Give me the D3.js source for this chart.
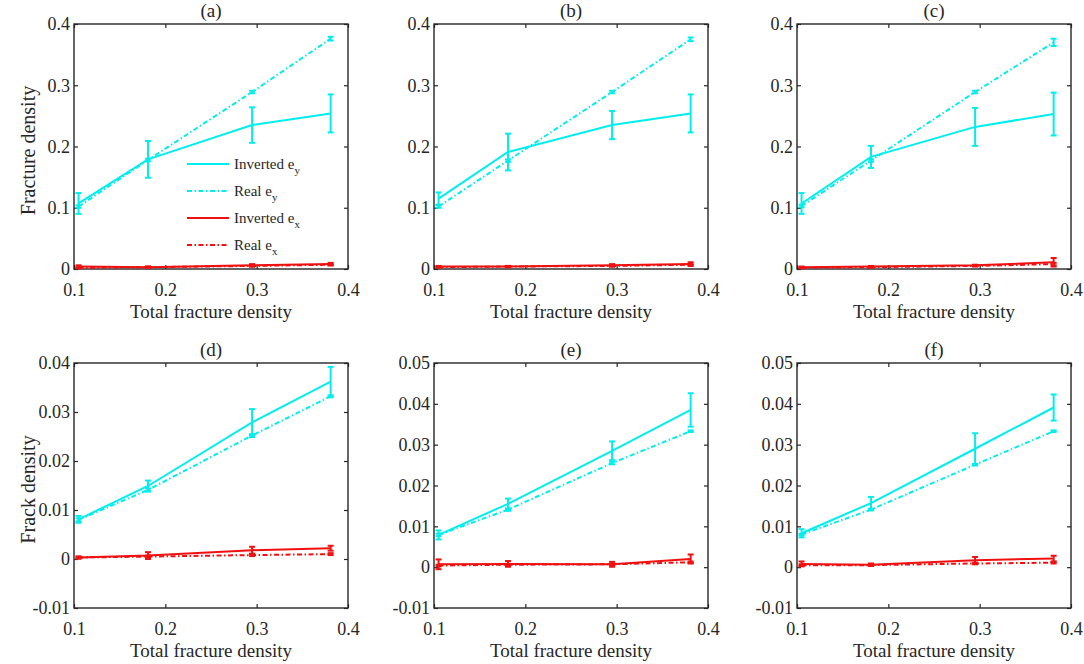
<!DOCTYPE html>
<html>
<head>
<meta charset="utf-8">
<script src="https://cdn.jsdelivr.net/npm/d3@7"></script>
<style>
  body { margin: 0; background: #fff; }
  text { font-family: "Liberation Serif", "Times New Roman", serif; fill: #262626; }
</style>
</head>
<body>
<div id="chart"></div>
<script>
// x positions shared by every panel
const xVals = [0.105, 0.181, 0.295, 0.381];

const panelLabels = ["(a)", "(b)", "(c)", "(d)", "(e)", "(f)"];
const xTicks = [0.1, 0.2, 0.3, 0.4];
const yTicksTop = [0, 0.1, 0.2, 0.3, 0.4];
const yTicksD = [-0.01, 0, 0.01, 0.02, 0.03, 0.04];
const yTicksEF = [-0.01, 0, 0.01, 0.02, 0.03, 0.04, 0.05];
const yLabels = ["Fracture density", "", "", "Frack density", "", ""];

// one row per panel (a..f)
const invEyVal = [
  [0.107, 0.179, 0.235, 0.254],
  [0.115, 0.191, 0.235, 0.254],
  [0.107, 0.183, 0.232, 0.253],
  [0.0081, 0.0149, 0.0279, 0.0362],
  [0.0079, 0.0155, 0.0285, 0.0385],
  [0.0083, 0.0157, 0.0290, 0.0391]
];
const invEyErr = [
  [0.017, 0.030, 0.029, 0.031],
  [0.010, 0.030, 0.023, 0.031],
  [0.017, 0.018, 0.031, 0.035],
  [0.0007, 0.0011, 0.0027, 0.0030],
  [0.0011, 0.0013, 0.0023, 0.0041],
  [0.0010, 0.0015, 0.0038, 0.0032]
];
const realEyVal = [
  [0.102, 0.178, 0.289, 0.376],
  [0.102, 0.177, 0.289, 0.375],
  [0.103, 0.177, 0.289, 0.370],
  [0.0080, 0.0141, 0.0252, 0.0332],
  [0.0079, 0.0141, 0.0255, 0.0333],
  [0.0080, 0.0141, 0.0251, 0.0333]
];
const realEyErr = [
  [0.002, 0.002, 0.002, 0.003],
  [0.002, 0.002, 0.002, 0.003],
  [0.002, 0.002, 0.002, 0.006],
  [0.0003, 0.0003, 0.0003, 0.0002],
  [0.0003, 0.0003, 0.0003, 0.0002],
  [0.0002, 0.0002, 0.0002, 0.0002]
];
const invExVal = [
  [0.004, 0.003, 0.006, 0.008],
  [0.004, 0.004, 0.006, 0.008],
  [0.003, 0.004, 0.006, 0.011],
  [0.0003, 0.0007, 0.0018, 0.0022],
  [0.0007, 0.0008, 0.0007, 0.0020],
  [0.0008, 0.0006, 0.0017, 0.0021]
];
const invExErr = [
  [0.002, 0.001, 0.002, 0.002],
  [0.001, 0.001, 0.002, 0.003],
  [0.001, 0.001, 0.001, 0.007],
  [0.0002, 0.0007, 0.0007, 0.0005],
  [0.0012, 0.0007, 0.0006, 0.0011],
  [0.0006, 0.0003, 0.0008, 0.0007]
];
const realExVal = [
  [0.002, 0.003, 0.005, 0.007],
  [0.003, 0.004, 0.005, 0.007],
  [0.002, 0.003, 0.005, 0.008],
  [0.0003, 0.0005, 0.0008, 0.0010],
  [0.0004, 0.0006, 0.0007, 0.0012],
  [0.0005, 0.0005, 0.0009, 0.0011]
];
const realExErr = [
  [0.001, 0.001, 0.001, 0.001],
  [0.001, 0.001, 0.001, 0.001],
  [0.001, 0.001, 0.001, 0.002],
  [0.0002, 0.0002, 0.0002, 0.0002],
  [0.0002, 0.0002, 0.0002, 0.0002],
  [0.0002, 0.0002, 0.0002, 0.0002]
];

const legendNames = ["Inverted e", "Real e", "Inverted e", "Real e"];
const legendSubs = ["y", "y", "x", "x"];

const CYAN = "#00eeee";
const RED = "#f01010";
const DASHDOT = "5,2.5,1.5,2.5";

const width = 1084, height = 664;
const panelLeft = [74, 434, 797];
const panelTop = [24, 363];
const pw = 274, ph = 245;

const svg = d3.select("#chart").append("svg")
  .attr("width", width)
  .attr("height", height);

function fmt(d){
  return d === 0 ? "0" : String(+d.toFixed(3));
}

function drawPanel(p){
  const col = p % 3, row = Math.floor(p / 3);
  const g = svg.append("g")
    .attr("transform", "translate(" + panelLeft[col] + "," + panelTop[row] + ")");

  const yTicks = row === 0 ? yTicksTop : (p === 3 ? yTicksD : yTicksEF);
  const x = d3.scaleLinear().domain([0.1, 0.4]).range([0, pw]);
  const y = d3.scaleLinear().domain(d3.extent(yTicks)).range([ph, 0]);

  // inward ticks on all four sides, labels only left and bottom
  g.append("g").attr("transform", "translate(0," + ph + ")")
    .call(d3.axisBottom(x).tickValues(xTicks).tickSizeInner(-4).tickSizeOuter(0).tickPadding(14).tickFormat(fmt));
  g.append("g")
    .call(d3.axisTop(x).tickValues(xTicks).tickSizeInner(-4).tickSizeOuter(0).tickFormat(""));
  g.append("g")
    .call(d3.axisLeft(y).tickValues(yTicks).tickSizeInner(-4).tickSizeOuter(0).tickPadding(4).tickFormat(fmt));
  g.append("g").attr("transform", "translate(" + pw + ",0)")
    .call(d3.axisRight(y).tickValues(yTicks).tickSizeInner(-4).tickSizeOuter(0).tickFormat(""));

  g.selectAll(".domain").remove();
  g.selectAll(".tick line").attr("stroke", "#262626").attr("stroke-width", 1.2);
  g.selectAll(".tick text").attr("font-size", 18).attr("fill", "#262626")
    .attr("font-family", "Liberation Serif, Times New Roman, serif");

  g.append("rect")
    .attr("width", pw).attr("height", ph)
    .attr("fill", "none").attr("stroke", "#262626").attr("stroke-width", 1.4);

  const series = [
    {v: invEyVal[p], e: invEyErr[p], c: CYAN, dash: null},
    {v: realEyVal[p], e: realEyErr[p], c: CYAN, dash: DASHDOT},
    {v: invExVal[p], e: invExErr[p], c: RED, dash: null},
    {v: realExVal[p], e: realExErr[p], c: RED, dash: DASHDOT}
  ];

  const line = d3.line().x(d => x(d[0])).y(d => y(d[1]));

  series.forEach(s => {
    const pts = xVals.map((xv, i) => [xv, s.v[i], s.e[i]]);
    g.append("path")
      .attr("d", line(pts))
      .attr("fill", "none")
      .attr("stroke", s.c)
      .attr("stroke-width", 2)
      .attr("stroke-dasharray", s.dash);
    const eb = g.append("g").attr("stroke", s.c).attr("stroke-width", 2);
    pts.forEach(d => {
      const cx = x(d[0]), y0 = y(d[1] - d[2]), y1 = y(d[1] + d[2]);
      eb.append("line").attr("x1", cx).attr("x2", cx).attr("y1", y0).attr("y2", y1);
      eb.append("line").attr("x1", cx - 3).attr("x2", cx + 3).attr("y1", y0).attr("y2", y0);
      eb.append("line").attr("x1", cx - 3).attr("x2", cx + 3).attr("y1", y1).attr("y2", y1);
    });
  });

  g.append("text")
    .attr("x", pw / 2).attr("y", -7)
    .attr("text-anchor", "middle")
    .attr("font-size", 19)
    .text(panelLabels[p]);

  g.append("text")
    .attr("x", pw / 2).attr("y", ph + 49)
    .attr("text-anchor", "middle")
    .attr("font-size", 19)
    .text("Total fracture density");

  if (yLabels[p]) {
    g.append("text")
      .attr("transform", "translate(-39," + (ph / 2 + 4) + ") rotate(-90)")
      .attr("text-anchor", "middle")
      .attr("font-size", 20)
      .text(yLabels[p]);
  }

  if (p === 0) {
    const lg = g.append("g").attr("transform", "translate(113,140)");
    legendNames.forEach((name, i) => {
      const s = series[i];
      const ly = i * 27;
      lg.append("line")
        .attr("x1", 0).attr("x2", 42).attr("y1", ly).attr("y2", ly)
        .attr("stroke", s.c).attr("stroke-width", 2)
        .attr("stroke-dasharray", s.dash);
      const t = lg.append("text")
        .attr("x", 47).attr("y", ly + 5)
        .attr("font-size", 15);
      t.append("tspan").text(name);
      t.append("tspan").attr("dy", 5).attr("font-size", 11).text(legendSubs[i]);
    });
  }
}

for (let p = 0; p < 6; p++) drawPanel(p);
</script>
</body>
</html>
